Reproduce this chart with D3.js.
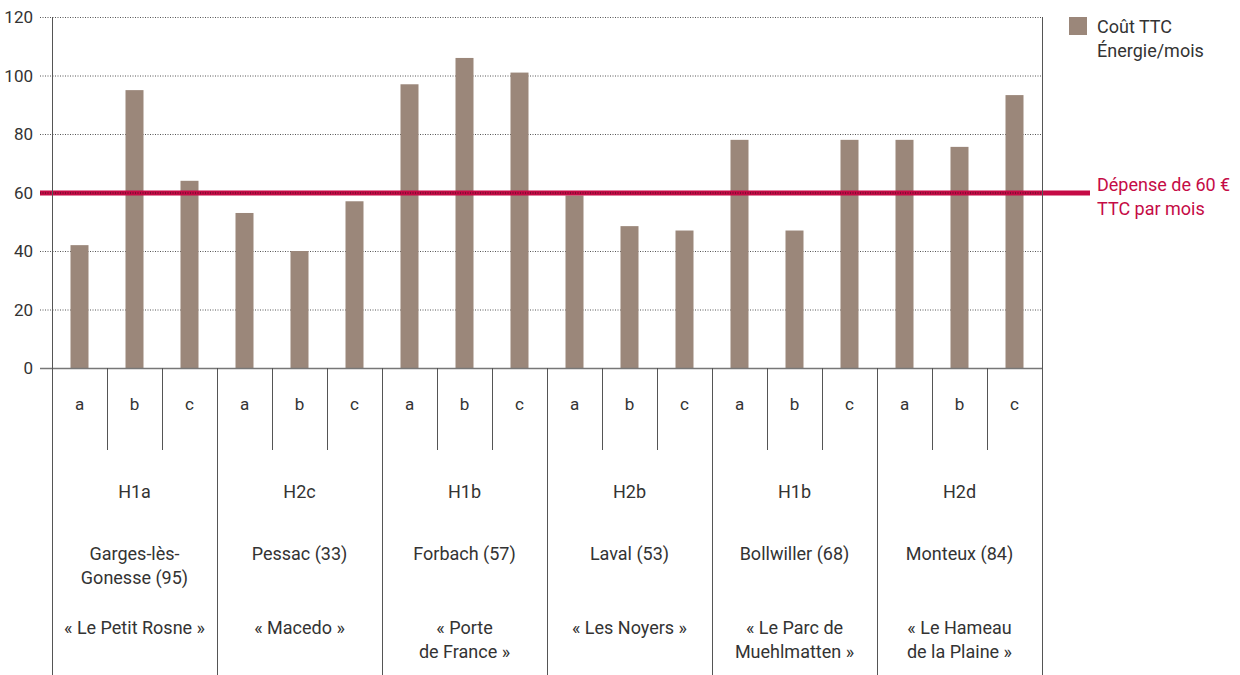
<!DOCTYPE html>
<html>
<head>
<meta charset="utf-8">
<script src="https://cdn.jsdelivr.net/npm/d3@7"></script>
<style>
  body { margin: 0; background: #fff; }
  text { font-family: Roboto, "Noto Sans", sans-serif; fill: #333; }
  .grid line { stroke: #555; stroke-dasharray: 1 1.5; }
</style>
</head>
<body>
<script>
// chart data
var groups = ["H1a", "H2c", "H1b", "H2b", "H1b", "H2d"];
var cities = [["Garges-lès-", "Gonesse (95)"], ["Pessac (33)"], ["Forbach (57)"], ["Laval (53)"], ["Bollwiller (68)"], ["Monteux (84)"]];
var quotes = [["« Le Petit Rosne »"], ["« Macedo »"], ["« Porte", "de France »"], ["« Les Noyers »"], ["« Le Parc de", "Muehlmatten »"], ["« Le Hameau", "de la Plaine »"]];
var letters = ["a", "b", "c"];
var costs = [
    [42, 95, 64],
    [53, 40, 57],
    [97, 106, 101],
    [59, 48.5, 47],
    [78, 47, 78],
    [78, 75.6, 93.3]
];
var yTicks = [0, 20, 40, 60, 80, 100, 120];
var threshold = 60;
var legendLabel = ["Coût TTC", "Énergie/mois"];
var thresholdLabel = ["Dépense de 60 €", "TTC par mois"];

//frame
var width = 1240, height = 675;
var plotL = 52, plotR = 1042, plotT = 17, plotB = 368;

var svg = d3.select("body")
    .append("svg")
    .attr("width", width)
    .attr("height", height);

//flatten to one row per bar
var rows = [];
costs.forEach(function(g, i){
    g.forEach(function(v, j){
        rows.push({key: i + letters[j], group: i, letter: letters[j], value: v});
    });
});

var x = d3.scaleBand()
    .domain(rows.map(function(d){ return d.key; }))
    .range([plotL, plotR]);

var xGroup = d3.scaleBand()
    .domain(d3.range(groups.length))
    .range([plotL, plotR]);

var y = d3.scaleLinear()
    .domain([0, 120])
    .range([plotB, plotT]);

//dotted gridlines
svg.append("g")
    .attr("class", "grid")
    .selectAll("line")
    .data(yTicks.filter(function(t){ return t > 0; }))
    .enter()
    .append("line")
    .attr("x1", 40)
    .attr("x2", plotR)
    .attr("y1", function(d){ return y(d) + 0.5; })
    .attr("y2", function(d){ return y(d) + 0.5; });

//tick labels
svg.selectAll(".ytick")
    .data(yTicks)
    .enter()
    .append("text")
    .attr("class", "ytick")
    .attr("x", 33)
    .attr("y", function(d){ return y(d); })
    .attr("dy", "0.36em")
    .attr("text-anchor", "end")
    .style("font-size", "17px")
    .text(function(d){ return d; });

//bars
var barW = 18;
svg.selectAll(".bar")
    .data(rows)
    .enter()
    .append("rect")
    .attr("class", "bar")
    .attr("x", function(d){ return x(d.key) + (x.bandwidth() - barW) / 2; })
    .attr("width", barW)
    .attr("y", function(d){ return y(d.value); })
    .attr("height", function(d){ return y(0) - y(d.value); })
    .attr("fill", "#9b877a");

//threshold line
svg.append("line")
    .attr("x1", 40)
    .attr("x2", 1090)
    .attr("y1", y(threshold) + 0.5)
    .attr("y2", y(threshold) + 0.5)
    .attr("stroke", "#c50b46")
    .attr("stroke-width", 5);
svg.append("line")
    .attr("x1", 40)
    .attr("x2", plotR)
    .attr("y1", y(threshold) + 0.5)
    .attr("y2", y(threshold) + 0.5)
    .attr("stroke", "#3a1020")
    .attr("stroke-dasharray", "1 1.5");

//baseline
svg.append("line")
    .attr("x1", 40)
    .attr("x2", plotR)
    .attr("y1", plotB + 0.5)
    .attr("y2", plotB + 0.5)
    .attr("stroke", "#777")
    .attr("stroke-width", 1.5);

//left and right frame
[plotL, plotR].forEach(function(px){
    svg.append("line")
        .attr("x1", px + 0.5).attr("x2", px + 0.5)
        .attr("y1", plotT).attr("y2", height)
        .attr("stroke", "#555");
});

//column separators
svg.selectAll(".sep")
    .data(rows.filter(function(d){ return d.letter != "a"; }))
    .enter()
    .append("line")
    .attr("class", "sep")
    .attr("x1", function(d){ return x(d.key) + 0.5; })
    .attr("x2", function(d){ return x(d.key) + 0.5; })
    .attr("y1", plotB)
    .attr("y2", 450)
    .attr("stroke", "#555");

//group separators
svg.selectAll(".gsep")
    .data(d3.range(1, groups.length))
    .enter()
    .append("line")
    .attr("class", "gsep")
    .attr("x1", function(d){ return xGroup(d) + 0.5; })
    .attr("x2", function(d){ return xGroup(d) + 0.5; })
    .attr("y1", plotB)
    .attr("y2", height)
    .attr("stroke", "#555");

//letters
svg.selectAll(".letter")
    .data(rows)
    .enter()
    .append("text")
    .attr("class", "letter")
    .attr("x", function(d){ return x(d.key) + x.bandwidth() / 2; })
    .attr("y", 404)
    .attr("dy", "0.36em")
    .attr("text-anchor", "middle")
    .style("font-size", "17px")
    .text(function(d){ return d.letter; });

//stacked lines of text
function multiline(sel, lines, y0){
    sel.selectAll("tspan")
        .data(lines)
        .enter()
        .append("tspan")
        .attr("x", sel.attr("x"))
        .attr("y", function(d, i){ return y0 + i * 24; })
        .attr("dy", "0.36em")
        .text(function(d){ return d; });
}

groups.forEach(function(g, i){
    var cx = xGroup(i) + xGroup.bandwidth() / 2;
    svg.append("text")
        .attr("x", cx).attr("y", 492).attr("dy", "0.36em")
        .attr("text-anchor", "middle")
        .style("font-size", "18px")
        .text(g);
    var c = svg.append("text")
        .attr("x", cx)
        .attr("text-anchor", "middle")
        .style("font-size", "18px");
    multiline(c, cities[i], 554);
    var q = svg.append("text")
        .attr("x", cx)
        .attr("text-anchor", "middle")
        .style("font-size", "18px");
    multiline(q, quotes[i], 628);
});

//legend
svg.append("rect")
    .attr("x", 1069).attr("y", 17)
    .attr("width", 18).attr("height", 18)
    .attr("fill", "#9b877a");
var lg = svg.append("text")
    .attr("x", 1097)
    .style("font-size", "18px");
multiline(lg, legendLabel, 27);

var tl = svg.append("text")
    .attr("x", 1097)
    .style("font-size", "18px")
    .style("fill", "#c50b46");
multiline(tl, thresholdLabel, 185);
</script>
</body>
</html>
